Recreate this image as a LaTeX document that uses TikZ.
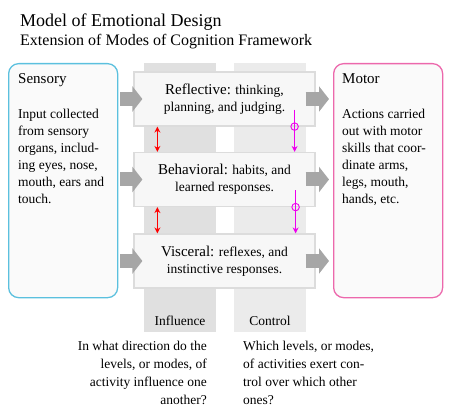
\documentclass[tikz,border=0pt]{standalone}
\usepackage{fontspec}
\setmainfont{Liberation Serif}
\usetikzlibrary{arrows.meta}
\definecolor{sensline}{RGB}{91,192,222}
\definecolor{motorline}{RGB}{236,104,172}
\definecolor{boxfill}{RGB}{250,250,250}
\definecolor{levelfill}{RGB}{247,247,247}
\definecolor{levelline}{RGB}{220,220,220}
\definecolor{inflgray}{RGB}{224,224,224}
\definecolor{ctrlgray}{RGB}{235,235,235}
\definecolor{fatgray}{RGB}{166,166,166}
\definecolor{ctrlmag}{RGB}{238,0,238}
\newcommand\bodyfont{\fontsize{13.5pt}{17pt}\selectfont}
\newcommand\headfont{\fontsize{15pt}{17pt}\selectfont}

\begin{document}
\begin{tikzpicture}[x=1pt, y=-1pt, >=Stealth, every node/.style={font=\bodyfont},
  outerbox/.style={draw, line width=1.3pt, rounded corners=10pt, fill=boxfill, minimum width=109pt, minimum height=234pt, anchor=north west},
  levelbox/.style={draw=levelline, line width=1.2pt, fill=levelfill, minimum width=181pt, minimum height=54pt, align=center},
  column/.style={minimum width=72pt, minimum height=269pt, anchor=north west, inner sep=0pt},
  fatarrow/.style={draw=fatgray, line width=14pt, -{Triangle[length=10pt, width=25pt]}},
  influarrow/.style={red, line width=1.2pt, {Stealth[length=6pt, width=6pt]}-{Stealth[length=6pt, width=6pt]}},
  ctrlarrow/.style={ctrlmag, line width=0.9pt, -{Stealth[length=6pt, width=6pt]}},
  ctrlmark/.style={circle, draw=ctrlmag, line width=0.9pt, minimum size=7.5pt, inner sep=0pt}]
  \useasboundingbox (0,0) rectangle (450,414);
  % titles
  \node[anchor=base west, inner sep=0pt, font=\fontsize{18pt}{20pt}\selectfont] (title) at (20,27) {Model of Emotional Design};
  \node[anchor=base west, inner sep=0pt, font=\fontsize{16pt}{18pt}\selectfont] (subtitle) at (20,46) {Extension of Modes of Cognition Framework};
  % columns
  \node[column, fill=inflgray] (inflcol) at (144,63) {};
  \node[column, fill=ctrlgray] (ctrlcol) at (234,63) {};
  \node[anchor=base] (infllabel) at (180,325) {Influence};
  \node[anchor=base] (ctrllabel) at (270,325) {Control};
  % outer boxes
  \node[outerbox, draw=sensline] (sensory) at (8,63) {};
  \node[outerbox, draw=motorline] (motor) at (333,63) {};
  \node[anchor=north west, align=left, inner sep=0pt] (sensorytext) at ([xshift=10pt, yshift=-10pt]sensory.north west)
    {{\headfont Sensory}\\[18pt]Input collected\\from sensory\\organs, includ-\\ing eyes, nose,\\mouth, ears and\\touch.};
  \node[anchor=north west, align=left, inner sep=0pt] (motortext) at ([xshift=9pt, yshift=-10pt]motor.north west)
    {{\headfont Motor}\\[18pt]Actions carried\\out with motor\\skills that coor-\\dinate arms,\\legs, mouth,\\hands, etc.};
  % levels
  \node[levelbox] (refl) at (224.5,99) {{\headfont Reflective:} thinking,\\planning, and judging.};
  \node[levelbox] (behav) at (224.5,179.5) {{\headfont Behavioral:} habits, and\\learned responses.};
  \node[levelbox] (visc) at (224.5,261) {{\headfont Visceral:} reflexes, and\\instinctive responses.};
  % input and output arrows
  \foreach \lvl in {refl, behav, visc} {
    \draw[fatarrow] ([xshift=2pt]sensory.east |- \lvl.west) -- ([xshift=9pt]\lvl.west);
    \draw[fatarrow] ([xshift=-10pt]\lvl.east) -- ([xshift=-4pt]motor.west |- \lvl.east);
  }
  % influence
  \draw[influarrow] ([xshift=24pt]refl.south west) -- ([xshift=24pt]behav.north west);
  \draw[influarrow] ([xshift=24pt]behav.south west) -- ([xshift=24pt]visc.north west);
  % control
  \node[ctrlmark] (markA) at ([xshift=-21pt]refl.south east) {};
  \node[ctrlmark] (markB) at ([xshift=-20pt]behav.south east) {};
  \draw[ctrlarrow] ([yshift=17pt]markA.center) -- (markA.center |- behav.north);
  \draw[ctrlarrow] ([yshift=17pt]markB.center) -- (markB.center |- visc.north);
  % questions
  \node[anchor=north east, align=right, inner sep=0pt, font=\fontsize{13.5pt}{18pt}\selectfont] (inflq) at (207,341)
    {In what direction do the\\levels, or modes, of\\activity influence one\\another?};
  \node[anchor=north west, align=left, inner sep=0pt, font=\fontsize{13.5pt}{18pt}\selectfont] (ctrlq) at (243,341)
    {Which levels, or modes,\\of activities exert con-\\trol over which other\\ones?};
\end{tikzpicture}
\end{document}
